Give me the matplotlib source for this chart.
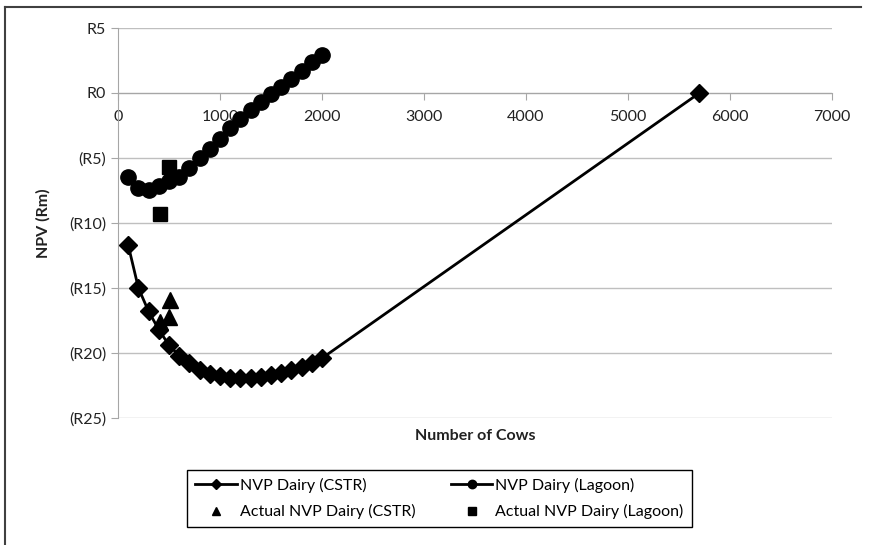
import numpy as np
import matplotlib
matplotlib.use('Agg')
import matplotlib.pyplot as plt
from matplotlib.ticker import FuncFormatter, MultipleLocator
from matplotlib.lines import Line2D

plt.rcParams['font.family'] = ['Lato', 'DejaVu Sans']

# modelled NPV, CSTR digester (R million)
cows_cstr = [100, 200, 300, 400, 500, 600, 700, 800, 900, 1000, 1100, 1200, 1300,
             1400, 1500, 1600, 1700, 1800, 1900, 2000, 5700]
npv_cstr = [-11.7, -15.0, -16.8, -18.2, -19.4, -20.2, -20.8, -21.3, -21.6, -21.8, -21.9,
            -21.95, -21.95, -21.85, -21.7, -21.5, -21.3, -21.05, -20.75, -20.4, 0.0]

# modelled NPV, lagoon
cows_lagoon = [100, 200, 300, 400, 500, 600, 700, 800, 900, 1000, 1100, 1200, 1300,
               1400, 1500, 1600, 1700, 1800, 1900, 2000]
npv_lagoon = [-6.45, -7.3, -7.45, -7.15, -6.8, -6.45, -5.75, -5.0, -4.3, -3.5, -2.7,
              -2.0, -1.3, -0.7, -0.1, 0.5, 1.1, 1.7, 2.35, 2.9]

# actual plants
cows_act_cstr = [410, 500, 510]
npv_act_cstr = [-17.6, -17.2, -15.9]
cows_act_lagoon = [410, 500]
npv_act_lagoon = [-9.3, -5.7]

W, H = 871, 545
fig = plt.figure(figsize=(W / 100, H / 100), dpi=100)
ax = fig.add_axes([118 / W, 1 - 418 / H, (832 - 118) / W, (418 - 28) / H])

grey = '#a6a6a6'
ax.set_xlim(0, 7000)
ax.set_ylim(-25, 5)
ax.yaxis.set_major_locator(MultipleLocator(5))
ax.xaxis.set_major_locator(MultipleLocator(1000))
ax.grid(axis='y', color='#bfbfbf', lw=1)
ax.set_axisbelow(True)

for s in ['top', 'right']:
    ax.spines[s].set_visible(False)
ax.spines['bottom'].set_position(('data', 0))
ax.spines['bottom'].set_color(grey)
ax.spines['left'].set_color(grey)


def fmt(v, pos):
    v = int(round(v))
    if v < 0:
        return '(R%d)' % (-v)
    return 'R%d' % v


ax.yaxis.set_major_formatter(FuncFormatter(fmt))
ax.tick_params(axis='both', colors=grey, labelcolor='#222222', labelsize=11.5, length=5)
ax.tick_params(axis='x', pad=7)

l1, = ax.plot(cows_cstr, npv_cstr, color='black', lw=2, marker='D', ms=9, zorder=3)
l2, = ax.plot(cows_lagoon, npv_lagoon, color='black', lw=2, marker='o', ms=11, zorder=3)
l3, = ax.plot(cows_act_cstr, npv_act_cstr, ls='none', color='black', marker='^', ms=11.5, zorder=4)
l4, = ax.plot(cows_act_lagoon, npv_act_lagoon, ls='none', color='black', marker='s', ms=10, zorder=4)

fig.text(43 / W, 1 - 223 / H, 'NPV (Rm)', rotation=90, ha='center', va='center',
         fontsize=11.5, fontweight='bold', color='#222222')
fig.text(475 / W, 1 - 436 / H, 'Number of Cows', ha='center', va='center',
         fontsize=11.5, fontweight='bold', color='#222222')

leg = fig.legend([l1, l3, l2, l4],
                 ['NVP Dairy (CSTR)', 'Actual NVP Dairy (CSTR)',
                  'NVP Dairy (Lagoon)', 'Actual NVP Dairy (Lagoon)'],
                 ncol=2, loc='center', bbox_to_anchor=(439.5 / W, 1 - 498.5 / H),
                 fontsize=11.5, handlelength=2.6, handletextpad=0.2, columnspacing=2.2,
                 labelspacing=0.7, fancybox=False, edgecolor='black', framealpha=1,
                 borderpad=0.5, borderaxespad=0, markerscale=0.55)
leg.get_frame().set_linewidth(1)

# outer chart frame (only top and left visible in the crop)
fig.add_artist(Line2D([4.5 / W, 4.5 / W], [0, 1 - 6.5 / H], transform=fig.transFigure,
                      color='#404040', lw=1.5))
fig.add_artist(Line2D([4.5 / W, 861 / W], [1 - 6.5 / H, 1 - 6.5 / H], transform=fig.transFigure,
                      color='#404040', lw=1.5))

fig.savefig('out.png', dpi=100)
